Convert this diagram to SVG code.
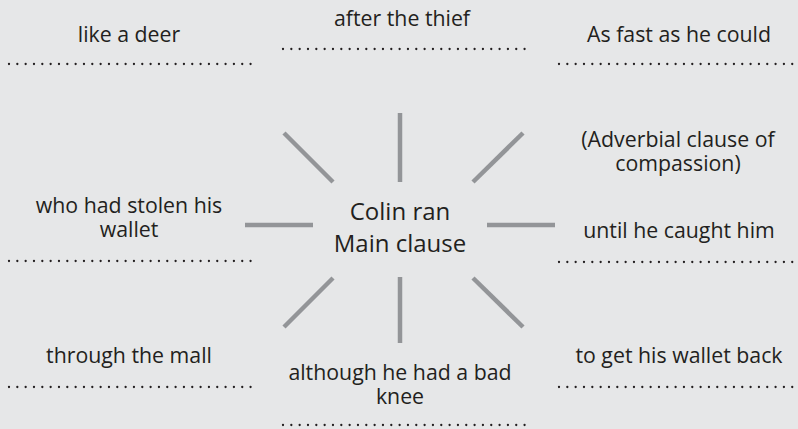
<svg xmlns="http://www.w3.org/2000/svg" width="798" height="429" viewBox="0 0 798 429">
<style>
text{font-family:"Open Sans","Noto Sans","DejaVu Sans",sans-serif;font-size:21.3px;fill:#231f20;text-anchor:middle}
.c{font-size:24px}
.dot{stroke:#231f20;stroke-width:2.3;stroke-linecap:round;stroke-dasharray:0 8.33;fill:none}
.sp{stroke:#939598;stroke-width:4.5;fill:none}
</style>
<rect width="798" height="429" fill="#e6e7e8"/>
<g id="connectors">
<line class="sp" x1="400" y1="113" x2="400" y2="182"/>
<line class="sp" x1="400" y1="277" x2="400" y2="343"/>
<line class="sp" x1="245" y1="225" x2="313" y2="225"/>
<line class="sp" x1="487" y1="225" x2="555" y2="225"/>
<line class="sp" x1="284" y1="133" x2="333" y2="182"/>
<line class="sp" x1="473" y1="182" x2="523" y2="133"/>
<line class="sp" x1="333" y1="278" x2="284" y2="327"/>
<line class="sp" x1="473" y1="278" x2="523" y2="327"/>
</g>
<g id="center"><text class="c" x="400" y="220">Colin ran<tspan x="400" y="252">Main clause</tspan></text></g>
<g id="n1"><text x="129" y="42">like a deer</text><line class="dot" x1="9" y1="64" x2="251" y2="64"/></g>
<g id="n2"><text x="402" y="26">after the thief</text><line class="dot" x1="283" y1="49" x2="525" y2="49"/></g>
<g id="n3"><text x="679" y="42">As fast as he could</text><line class="dot" x1="559" y1="64" x2="801" y2="64"/></g>
<g id="n4"><text x="678" y="147">(Adverbial clause of<tspan x="678" y="171">compassion)</tspan></text></g>
<g id="n5"><text x="129" y="213">who had stolen his<tspan x="129" y="237">wallet</tspan></text><line class="dot" x1="9" y1="261" x2="251" y2="261"/></g>
<g id="n6"><text x="679" y="238">until he caught him</text><line class="dot" x1="559" y1="262" x2="801" y2="262"/></g>
<g id="n7"><text x="129" y="363">through the mall</text><line class="dot" x1="9" y1="387" x2="251" y2="387"/></g>
<g id="n8"><text x="400" y="380">although he had a bad<tspan x="400" y="404">knee</tspan></text><line class="dot" x1="283" y1="425" x2="525" y2="425"/></g>
<g id="n9"><text x="679" y="363">to get his wallet back</text><line class="dot" x1="559" y1="387" x2="801" y2="387"/></g>
</svg>
